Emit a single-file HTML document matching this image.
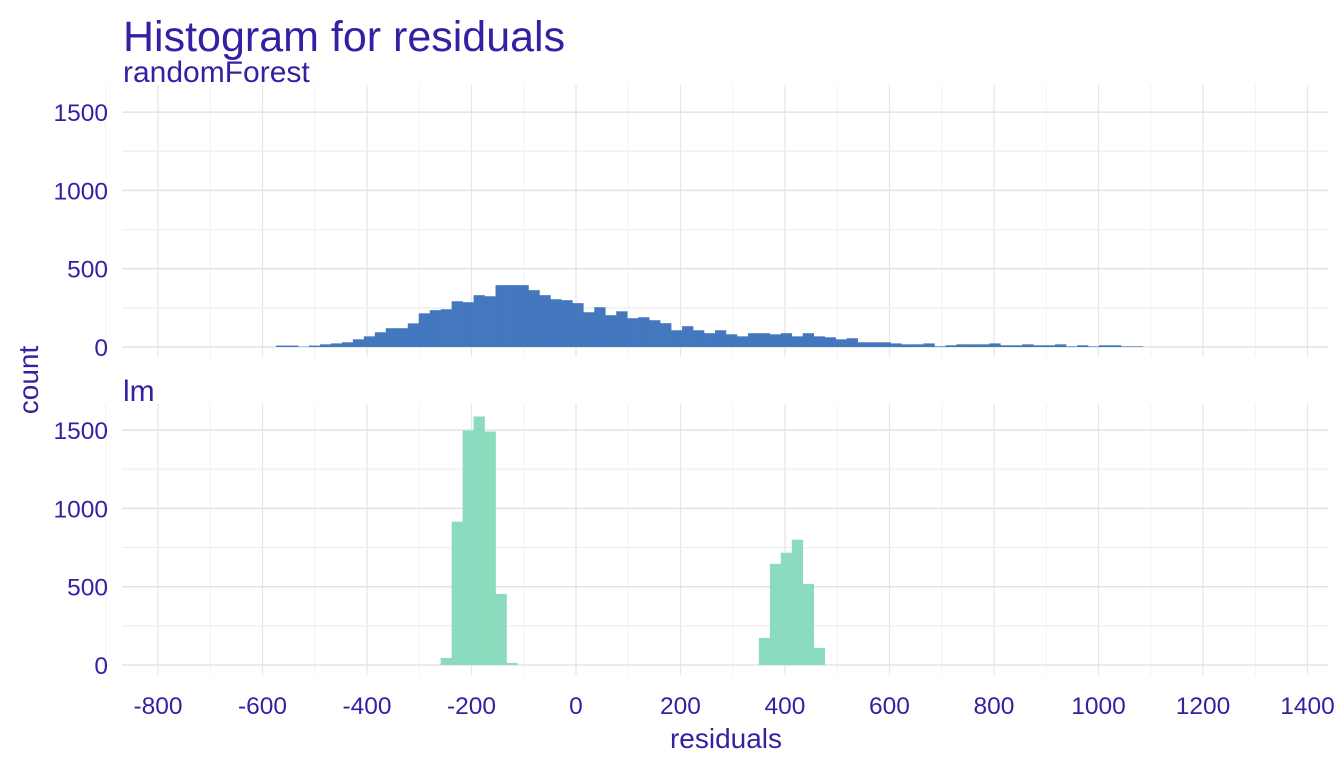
<!DOCTYPE html>
<html><head><meta charset="utf-8"><style>
body{margin:0;background:#fff;}
svg text{font-family:"Liberation Sans",sans-serif;fill:#371ea3;}
</style></head><body>
<svg width="1344" height="768" xmlns="http://www.w3.org/2000/svg">
<g id="root"></g>
</svg>
<script>
const binStart = -574;
const binWidth = 21;
const rfCounts = [9,9,2,9,17,23,30,49,68,94,120,120,151,215,235,241,292,286,331,324,395,395,395,363,331,305,299,280,222,254,203,228,184,190,171,152,107,133,107,88,
107,81,68,88,88,81,88,68,88,68,62,49,56,30,30,30,23,17,17,23,4,11,17,17,17,23,11,11,17,11,11,17,4,11,4,11,11,4,4];
const lmStartIndex = 15;
const lmCounts = [45,915,1498,1587,1491,454,13,0,0,0,0,0,0,0,0,0,0,0,0,0,0,0,0,0,0,0,0,0,0,173,646,717,800,518,109];
const xTicks = [-800,-600,-400,-200,0,200,400,600,800,1000,1200,1400];
const yTicks = [0,500,1000,1500];
const panels = [{name:'randomForest', base:347, counts:rfCounts, start:0, color:'#4378bf', top:85, bottom:357, labelY:82},
                {name:'lm', base:665, counts:lmCounts, start:lmStartIndex, color:'#8bdcbe', top:404, bottom:675, labelY:401}];
const NS='http://www.w3.org/2000/svg';
const root=document.getElementById('root');
const X=v=>576+v*0.5225;
const yS=78.3/500;
function el(t,a,txt){const e=document.createElementNS(NS,t);for(const k in a)e.setAttribute(k,a[k]);if(txt!==undefined)e.textContent=txt;root.appendChild(e);return e;}
const x0=122,x1=1328;
panels.forEach((p,pi)=>{
  for(let v=-900;v<=1400;v+=100){
    const major=v%200===0;
    const l=el('line',{x1:X(v),x2:X(v),y1:p.top,y2:p.bottom,stroke:major?'#e6e6e6':'#f2f2f2','stroke-width':major?1.3:1});
    
    
  }
  for(let v=0;v<=1750;v+=250){
    const y=p.base-v*yS; if(y<p.top)continue;
    const major=v%500===0;
    const l=el('line',{x1:x0,x2:x1,y1:y,y2:y,stroke:major?'#e3e3e3':'#eeeeee','stroke-width':major?1.5:1.2});
    
    
  }
  p.counts.forEach((c,i)=>{
    if(c<=0)return;
    const a=binStart+(p.start+i)*binWidth;
    const r=el('rect',{x:X(a),y:p.base-c*yS,width:binWidth*0.5225+0.3,height:c*yS,fill:p.color});
    
    
  });
  yTicks.forEach(v=>{
    const t=el('text',{x:108,y:p.base-v*yS+9,'text-anchor':'end','font-size':24.5},String(v));
    
    
  });
  const s=el('text',{x:123,y:p.labelY,'font-size':30},p.name);
  
  
});
xTicks.forEach(v=>{
  const t=el('text',{x:X(v),y:714,'text-anchor':'middle','font-size':24.5},String(v));
  
  
});
let t=el('text',{x:123,y:51,'font-size':43},'Histogram for residuals');


t=el('text',{x:726,y:748,'text-anchor':'middle','font-size':28},'residuals');


t=el('text',{x:38,y:380,'text-anchor':'middle','font-size':28,transform:'rotate(-90 38 380)'},'count');


</script>
</body></html>
